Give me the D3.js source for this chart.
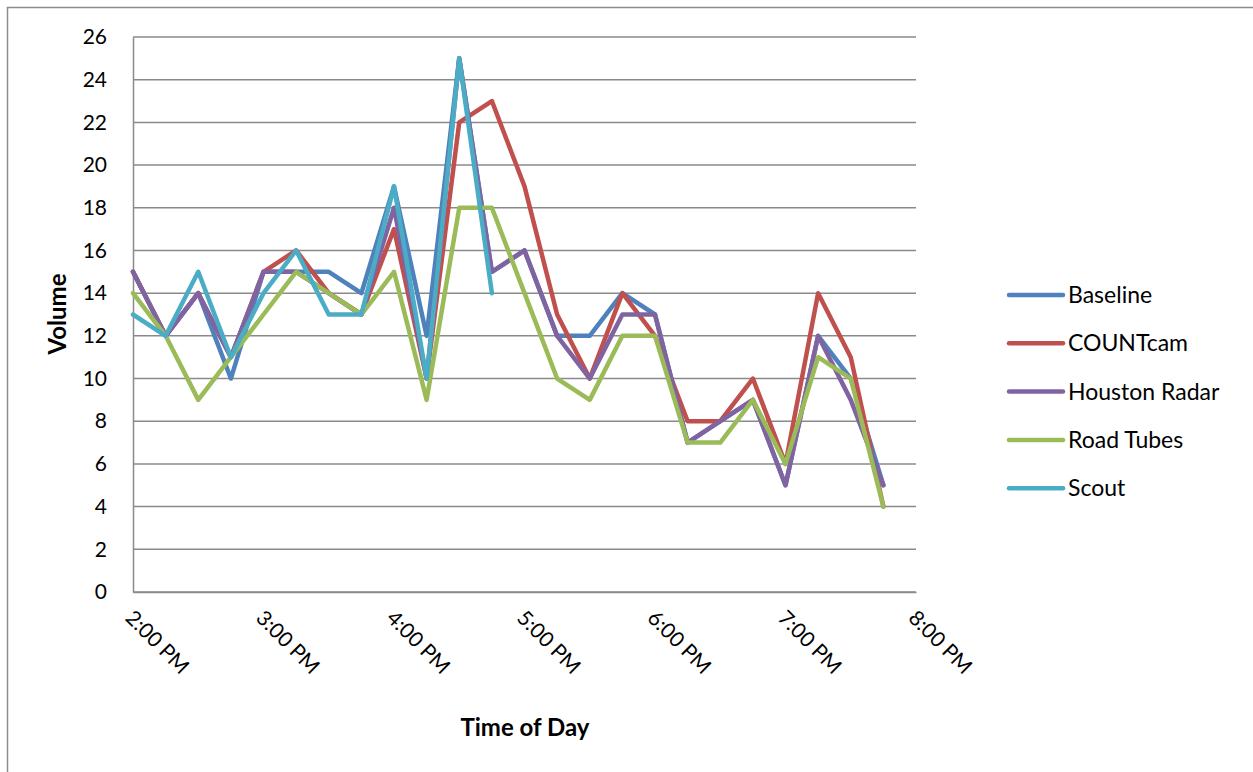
<!DOCTYPE html>
<html>
<head>
<meta charset="utf-8">
<script src="https://cdn.jsdelivr.net/npm/d3@7"></script>
<style>
  html, body { margin: 0; padding: 0; background: #fff; }
  svg { display: block; }
  text { font-family: Lato, "Liberation Sans", sans-serif; fill: #000; }
</style>
</head>
<body>
<svg id="chart" width="1253" height="772"></svg>
<script>
// ---- data ----
const times = ["2:00 PM","2:15 PM","2:30 PM","2:45 PM","3:00 PM","3:15 PM","3:30 PM","3:45 PM",
               "4:00 PM","4:15 PM","4:30 PM","4:45 PM","5:00 PM","5:15 PM","5:30 PM","5:45 PM",
               "6:00 PM","6:15 PM","6:30 PM","6:45 PM","7:00 PM","7:15 PM","7:30 PM","7:45 PM"];
const seriesNames = ["Baseline","COUNTcam","Houston Radar","Road Tubes","Scout"];
const baseline     = [15,12,14,10,15,15,15,14,19,12,25,15,16,12,12,14,13,7,8,9,5,12,10,5];
const countcam     = [15,12,14,11,15,16,14,13,17,10,22,23,19,13,10,14,12,8,8,10,6,14,11,4];
const houstonRadar = [15,12,14,11,15,15,14,13,18,10,25,15,16,12,10,13,13,7,8,9,5,12,9,5];
const roadTubes    = [14,12,9,11,13,15,14,13,15,9,18,18,14,10,9,12,12,7,7,9,6,11,10,4];
const scout        = [13,12,15,11,14,16,13,13,19,10,25,14];
const xTickLabels = ["2:00 PM","3:00 PM","4:00 PM","5:00 PM","6:00 PM","7:00 PM","8:00 PM"];
const yTicks = [0,2,4,6,8,10,12,14,16,18,20,22,24,26];
const colors = ["#4F81BD","#C0504D","#8064A2","#9BBB59","#4BACC6"];

// ---- helpers ----
const parseT = d3.timeParse("%I:%M %p");
const allSeries = [baseline, countcam, houstonRadar, roadTubes, scout];

const svg = d3.select("#chart");
const plotLeft = 133, plotRight = 916, plotTop = 37, plotBottom = 592;

// outer border
svg.append("rect").attr("x", 7.5).attr("y", 7.5).attr("width", 1400).attr("height", 900)
  .attr("fill", "none").attr("stroke", "#8c8c8c").attr("stroke-width", 1.5);

const x = d3.scaleTime()
  .domain([parseT(xTickLabels[0]), parseT(xTickLabels[xTickLabels.length - 1])])
  .range([plotLeft, plotRight]);
const y = d3.scaleLinear().domain([0, 26]).range([plotBottom, plotTop]);

// gridlines
svg.append("g").selectAll("line").data(yTicks).join("line")
  .attr("x1", plotLeft).attr("x2", plotRight)
  .attr("y1", d => y(d)).attr("y2", d => y(d))
  .attr("stroke", "#8a8a8a").attr("stroke-width", 1.5);

// y axis
const yAxis = svg.append("g").attr("transform", `translate(${plotLeft},0)`)
  .call(d3.axisLeft(y).tickValues(yTicks).tickSize(0).tickPadding(26));
yAxis.select(".domain").attr("stroke", "#8a8a8a").attr("stroke-width", 1.5);
yAxis.selectAll("text").style("font-family", "Lato, sans-serif").style("font-size", "21px").attr("fill", "#000");

// x axis
const xAxis = svg.append("g").attr("transform", `translate(0,${plotBottom})`)
  .call(d3.axisBottom(x).tickValues(xTickLabels.map(parseT)).tickSize(0).tickFormat((d, i) => xTickLabels[i]));
xAxis.select(".domain").attr("stroke", "#8a8a8a").attr("stroke-width", 1.5);
xAxis.selectAll("text")
  .style("font-family", "Lato, sans-serif").style("font-size", "21px").attr("fill", "#000")
  .attr("text-anchor", "start")
  .attr("dy", "0.35em")
  .attr("transform", "translate(-4,22) rotate(45)")
  .attr("x", 0).attr("y", 0);

// lines
const line = d3.line()
  .x((d, i) => x(parseT(times[i])))
  .y(d => y(d));
svg.append("g").selectAll("path").data(allSeries).join("path")
  .attr("d", d => line(d))
  .attr("fill", "none")
  .attr("stroke", (d, i) => colors[i])
  .attr("stroke-width", 4.5)
  .attr("stroke-linejoin", "round")
  .attr("stroke-linecap", "round");

// axis titles
svg.append("text").attr("transform", "translate(66,314) rotate(-90)")
  .attr("text-anchor", "middle").style("font-size", "24px").style("font-weight", "bold").text("Volume");
svg.append("text").attr("x", 525).attr("y", 736)
  .attr("text-anchor", "middle").style("font-size", "24px").style("font-weight", "bold").text("Time of Day");

// legend
const legend = svg.append("g").selectAll("g").data(seriesNames).join("g")
  .attr("transform", (d, i) => `translate(1009,${295 + i * 48.3})`);
legend.append("line").attr("x1", 0).attr("x2", 54).attr("y1", 0).attr("y2", 0)
  .attr("stroke", (d, i) => colors[i]).attr("stroke-width", 4.5).attr("stroke-linecap", "round");
legend.append("text").attr("x", 59).attr("y", 0).attr("dy", "0.35em")
  .style("font-size", "23px").text(d => d);
</script>
</body>
</html>
